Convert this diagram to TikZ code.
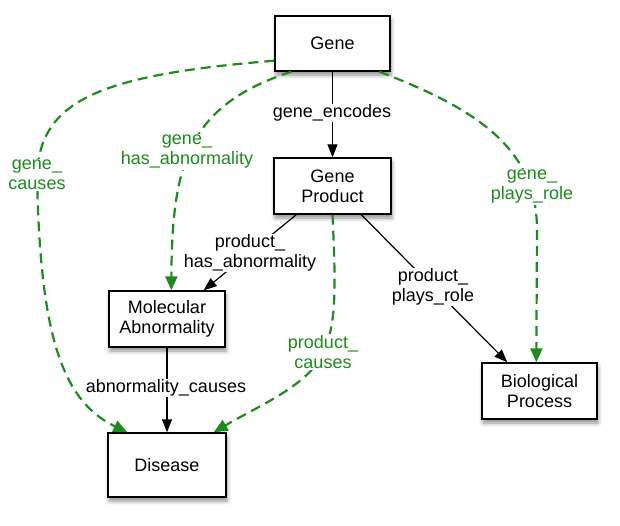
\documentclass[tikz,border=0pt]{standalone}
\usepackage{fontspec}
\setmainfont{Liberation Sans}
\usetikzlibrary{arrows.meta,shadows.blur,calc}
\definecolor{rgreen}{RGB}{28,140,28}
\begin{document}
\begin{tikzpicture}[x=1pt,y=-1pt,
  box/.style={draw=black,line width=1.4pt,fill=white,align=center,
    font=\fontsize{18}{20}\selectfont,inner sep=0pt,
    blur shadow={shadow xshift=1pt,shadow yshift=-4pt,shadow blur radius=4pt,shadow opacity=45}},
  blk/.style={draw=black,line width=1.2pt,-{Triangle[length=13pt,width=10pt]}},
  grn/.style={draw=rgreen,line width=2.2pt,dash pattern=on 10pt off 6pt,-{Triangle[length=14pt,width=12pt]}},
  lbl/.style={fill=white,align=center,font=\fontsize{18}{20}\selectfont,inner sep=1pt},
  glbl/.style={lbl,text=rgreen}]
\useasboundingbox (0,0) rectangle (620,525);

% nodes
\node[box,minimum width=115pt,minimum height=55pt] (gene) at (332.5,43.5) {Gene};
\node[box,minimum width=117pt,minimum height=56pt] (gp) at (332.5,186) {Gene\\Product};
\node[box,minimum width=116pt,minimum height=56pt] (ma) at (167,319) {Molecular\\Abnormality};
\node[box,minimum width=115pt,minimum height=56pt] (bp) at (539.5,391) {Biological\\Process};
\node[box,minimum width=118pt,minimum height=64pt] (dis) at (167,465) {Disease};

% black edges
\draw[blk] (gene.south) -- (gp.north);
\draw[blk] ($(gp.south west)+(23,0)$) -- ($(ma.north east)+(-22,0)$);
\draw[blk] ($(gp.south west)+(88,0)$) -- ($(bp.north west)+(26,0)$);
\draw[blk] (ma.south) -- (dis.north);

% green dashed edges
\draw[grn] ($(gene.south west)+(0,-11)$) .. controls (100,75) and (40,100) .. (37,175)
   .. controls (40,330) and (60,400) .. ($(dis.north west)+(20,0)$);
\draw[grn] ($(gene.south west)+(17,0)$) .. controls (190,105) and (172,160) .. ($(ma.north west)+(63,0)$);
\draw[grn] ($(gene.south west)+(105,0)$) .. controls (480,110) and (537,150) .. (537,230) -- ($(bp.north west)+(55,0)$);
\draw[grn] (gp.south) .. controls (336,290) and (336,320) .. (325,350)
   .. controls (310,385) and (260,405) .. ($(dis.north east)+(-13,0)$);

% labels
\node[lbl] (l1) at (332,113) {gene\_encodes};
\node[lbl] (l2) at (250,253) {product\_\\has\_abnormality};
\node[lbl] (l3) at (433,287) {product\_\\plays\_role};
\node[lbl] (l4) at (166,388) {abnormality\_causes};
\node[glbl] (l5) at (37,175) {gene\_\\causes};
\node[glbl] (l6) at (187,152) {gene\_\\has\_abnormality};
\node[glbl] (l7) at (532,187) {gene\_\\plays\_role};
\node[glbl] (l8) at (323,352) {product\_\\causes};
\end{tikzpicture}
\end{document}
